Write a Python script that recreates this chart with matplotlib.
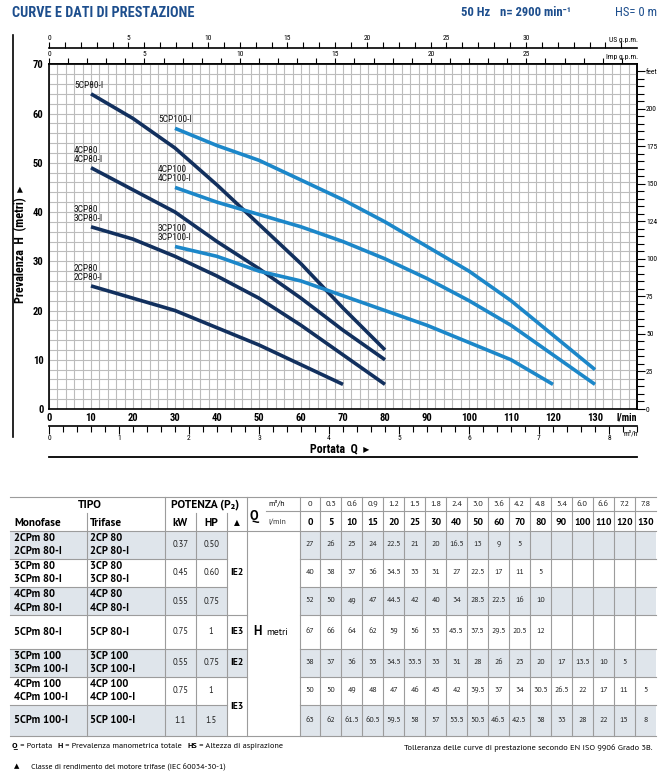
import matplotlib
matplotlib.use('Agg')
import matplotlib.pyplot as plt
import matplotlib.font_manager as fm
from matplotlib.ticker import MultipleLocator, FixedLocator, FuncFormatter
from matplotlib.patches import Rectangle

names = {f.name for f in fm.fontManager.ttflist}
def pick(prefs):
    for p in prefs:
        if p in names:
            return p
    return 'DejaVu Sans'
NARROW = pick(['Liberation Sans Narrow', 'Arial Narrow', 'Roboto Condensed', 'PT Sans Narrow', 'Liberation Sans'])
TXT = pick(['PT Sans', 'Liberation Sans'])
FB = 'DejaVu Sans'

# ---------------- data ----------------
Q_M3H = [0, 0.3, 0.6, 0.9, 1.2, 1.5, 1.8, 2.4, 3.0, 3.6, 4.2, 4.8, 5.4, 6.0, 6.6, 7.2, 7.8]
Q_LMIN = [0, 5, 10, 15, 20, 25, 30, 40, 50, 60, 70, 80, 90, 100, 110, 120, 130]

H_2CP80 = [27, 26, 25, 24, 22.5, 21, 20, 16.5, 13, 9, 5]
H_3CP80 = [40, 38, 37, 36, 34.5, 33, 31, 27, 22.5, 17, 11, 5]
H_4CP80 = [52, 50, 49, 47, 44.5, 42, 40, 34, 28.5, 22.5, 16, 10]
H_5CP80 = [67, 66, 64, 62, 59, 56, 53, 45.5, 37.5, 29.5, 20.5, 12]
H_3CP100 = [38, 37, 36, 35, 34.5, 33.5, 33, 31, 28, 26, 23, 20, 17, 13.5, 10, 5]
H_4CP100 = [50, 50, 49, 48, 47, 46, 45, 42, 39.5, 37, 34, 30.5, 26.5, 22, 17, 11, 5]
H_5CP100 = [63, 62, 61.5, 60.5, 59.5, 58, 57, 53.5, 50.5, 46.5, 42.5, 38, 33, 28, 22, 15, 8]

CURVE_LABELS = ["2CP80\n2CP80-I", "3CP80\n3CP80-I", "4CP80\n4CP80-I", "5CP80-I",
                "3CP100\n3CP100-I", "4CP100\n4CP100-I", "5CP100-I"]
CURVE_H = [H_2CP80, H_3CP80, H_4CP80, H_5CP80, H_3CP100, H_4CP100, H_5CP100]
CURVE_START = [10, 10, 10, 10, 30, 30, 30]     # l/min where drawn curve begins
CURVE_STEP = 10                                 # curve drawn through the 10 l/min table points
CURVE_GROUP = ["80", "80", "80", "80", "100", "100", "100"]

MONOFASE = [["2CPm 80", "2CPm 80-I"], ["3CPm 80", "3CPm 80-I"], ["4CPm 80", "4CPm 80-I"],
            ["5CPm 80-I"], ["3CPm 100", "3CPm 100-I"], ["4CPm 100", "4CPm 100-I"], ["5CPm 100-I"]]
TRIFASE = [["2CP 80", "2CP 80-I"], ["3CP 80", "3CP 80-I"], ["4CP 80", "4CP 80-I"],
           ["5CP 80-I"], ["3CP 100", "3CP 100-I"], ["4CP 100", "4CP 100-I"], ["5CP 100-I"]]
KW = ["0.37", "0.45", "0.55", "0.75", "0.55", "0.75", "1.1"]
HP = ["0.50", "0.60", "0.75", "1", "0.75", "1", "1.5"]
IE_GROUPS = [("IE2", 0, 2), ("IE3", 3, 3), ("IE2", 4, 4), ("IE3", 5, 6)]

FT_LABELS = ["0", "25", "50", "75", "100", "124", "150", "175", "200", "feet"]

NAVY = '#12305e'
BLUE = '#1c87c9'
TITLE_C = '#1d4e8d'
GRID_C = '#bcbcbc'
SHADE = '#dfe5eb'
TLINE = '#9c9c9c'

W, H = 670, 780
fig = plt.figure(figsize=(W / 100, H / 100), dpi=100)
renderer = fig.canvas.get_renderer()

ov = fig.add_axes([0, 0, 1, 1], zorder=0)
ov.set_xlim(0, W)
ov.set_ylim(H, 0)
ov.axis('off')


def size_for(s, target, family, weight='normal'):
    t = ov.text(0, 0, s, fontsize=10, family=family, fontweight=weight)
    w = t.get_window_extent(renderer=renderer).width
    t.remove()
    return 10 * target / w


# ---------------- main chart ----------------
L, T, R, B = 49, 64.3, 637, 409
ax = fig.add_axes([L / W, 1 - B / H, (R - L) / W, (B - T) / H], zorder=2)
ax.set_xlim(0, 140)
ax.set_ylim(0, 70)
ax.set_xticks(range(0, 131, 10))
ax.set_yticks(range(0, 71, 10))
ax.xaxis.set_minor_locator(MultipleLocator(2))
ax.yaxis.set_minor_locator(MultipleLocator(2))
ax.grid(which='both', color=GRID_C, lw=0.8)
ax.set_axisbelow(True)
ax.tick_params(which='both', length=0)
ax.tick_params(axis='x', pad=3)
ax.tick_params(axis='y', pad=4)
fs_tick = size_for("130", 16, NARROW, 'bold')
for lab in ax.get_xticklabels() + ax.get_yticklabels():
    lab.set_fontfamily(NARROW)
    lab.set_fontweight('bold')
    lab.set_fontsize(fs_tick)
for s in ax.spines.values():
    s.set_linewidth(1.2)
    s.set_color('black')

fs_clab = size_for("5CP80-I", 29, NARROW)
for lbl, hv, st, grp in zip(CURVE_LABELS, CURVE_H, CURVE_START, CURVE_GROUP):
    pts = [(q, h) for q, h in zip(Q_LMIN, hv) if q >= st and q % CURVE_STEP == 0]
    qs = [p[0] for p in pts]
    hs = [p[1] for p in pts]
    col = NAVY if grp == "80" else BLUE
    ax.plot(qs, hs, color=col, lw=2.6, solid_capstyle='butt', solid_joinstyle='round', zorder=3)
    ax.annotate(lbl, xy=(qs[0], hs[0]), xytext=(-17, 4), textcoords='offset pixels',
                ha='left', va='bottom', fontsize=fs_clab, family=NARROW, linespacing=1.0,
                color='#111111', zorder=4)

fs_small = size_for("200", 11, NARROW)

imp = ax.secondary_xaxis('top', functions=(lambda q: q / 4.54609, lambda g: g * 4.54609))
imp.xaxis.set_major_locator(FixedLocator(range(0, 31, 5)))
imp.xaxis.set_minor_locator(MultipleLocator(1))
imp.xaxis.set_major_formatter(FuncFormatter(lambda v, p: '' if v >= 30 else f"{v:g}"))
imp.tick_params(which='both', direction='out', length=4, width=0.8, labelsize=fs_small, pad=1)
for lab in imp.get_xticklabels():
    lab.set_fontfamily(NARROW)
imp.spines['top'].set_linewidth(1.2)

us = ax.secondary_xaxis(1 + (T - 48.3) / (B - T), functions=(lambda q: q / 3.78541, lambda g: g * 3.78541))
us.xaxis.set_major_locator(FixedLocator(range(0, 36, 5)))
us.xaxis.set_minor_locator(MultipleLocator(1))
us.xaxis.set_major_formatter(FuncFormatter(lambda v, p: '' if v >= 35 else f"{v:g}"))
us.tick_params(which='both', direction='out', length=4, width=0.8, labelsize=fs_small, pad=1)
for lab in us.get_xticklabels():
    lab.set_fontfamily(NARROW)
us.spines['top'].set_linewidth(1.2)

m3 = ax.secondary_xaxis(-(425.7 - B) / (B - T), functions=(lambda q: q * 0.06, lambda m: m / 0.06))
m3.xaxis.set_major_locator(FixedLocator(range(0, 9)))
m3.xaxis.set_minor_locator(MultipleLocator(0.2))
m3.tick_params(which='major', direction='out', length=6, width=0.8, labelsize=fs_small, pad=0.5)
m3.tick_params(which='minor', direction='out', length=4, width=0.8)
for lab in m3.get_xticklabels():
    lab.set_fontfamily(NARROW)
m3.spines['bottom'].set_linewidth(1.2)

ft = ax.secondary_yaxis('right', functions=(lambda m: m * 3.28084, lambda f: f / 3.28084))
ft.yaxis.set_major_locator(FixedLocator(range(0, 226, 25)))
ft.yaxis.set_minor_locator(MultipleLocator(5))
ft.yaxis.set_major_formatter(FuncFormatter(lambda v, p: FT_LABELS[int(round(v / 25))]))
ft.tick_params(which='major', direction='out', length=6, width=0.8, labelsize=fs_small, pad=0.5)
ft.tick_params(which='minor', direction='out', length=5, width=0.8)
for lab in ft.get_yticklabels():
    lab.set_fontfamily(NARROW)
ft.spines['right'].set_linewidth(1.2)

ov.text(638, 40, "US g.p.m.", ha='right', va='center', fontsize=fs_small, family=NARROW)
ov.text(638, 56.5, "Imp g.p.m.", ha='right', va='center', fontsize=fs_small, family=NARROW)
ov.text(627, 417.5, "l/min", ha='center', va='center', family=NARROW, fontweight='bold',
        fontsize=size_for("l/min", 20.5, NARROW, 'bold'))
ov.text(623, 433.5, "m³/h", ha='left', va='center', fontsize=fs_small, family=NARROW)
ov.text(340, 449, "Portata  Q  ▸", ha='center', va='center', family=[NARROW, FB], fontweight='bold',
        fontsize=size_for("Portata  Q  ▸", 60, [NARROW, FB], 'bold'))
ov.text(21, 244, "Prevalenza  H  (metri)  ▸", ha='center', va='center', rotation=90,
        family=[NARROW, FB], fontweight='bold',
        fontsize=size_for("Prevalenza  H  (metri)  ▸", 118, [NARROW, FB], 'bold'))
ov.plot([12.7, 12.7], [35, 437], color='black', lw=1.2)
ov.plot([L, R], [457, 457], color='black', lw=1.3)

# title and header
fs_title = size_for("CURVE E DATI DI PRESTAZIONE", 182, NARROW, 'bold')
ov.text(12, 13, "CURVE E DATI DI PRESTAZIONE", ha='left', va='center', family=NARROW,
        fontweight='bold', color=TITLE_C, fontsize=fs_title)
fs_hdr = fs_title * 0.88
ov.text(461, 13, "50 Hz", ha='left', va='center', fontsize=fs_hdr, family=NARROW,
        fontweight='bold', color=TITLE_C)
ov.text(500, 13, "n= 2900 min⁻¹", ha='left', va='center', fontsize=fs_hdr,
        family=[NARROW, FB], fontweight='bold', color=TITLE_C)
ov.text(657, 13, "HS= 0 m", ha='right', va='center', family=NARROW, color=TITLE_C,
        fontsize=fs_hdr)

# ---------------- table ----------------
COLX = [10, 86.7, 165, 195.7, 226.7, 247.3, 299.5]
NV = len(Q_LMIN)
XE = 655.7
VX0, VW = 299.5, (XE - 299.5) / NV
VALX = [VX0 + i * VW for i in range(NV + 1)]
HT, HM, HB = 497, 511, 530.5
ROWY = [530.5, 558.5, 587, 615, 648.5, 677, 704.5, 736]
nrows = len(MONOFASE)
shaded = [i % 2 == 0 for i in range(nrows)]
merged_ie = {}
for lab, r0, r1 in IE_GROUPS:
    for r in range(r0, r1 + 1):
        merged_ie[r] = (r0, r1)

for r in range(nrows):
    if not shaded[r]:
        continue
    y0, y1 = ROWY[r], ROWY[r + 1]
    ov.add_patch(Rectangle((COLX[0], y0), COLX[4] - COLX[0], y1 - y0, color=SHADE, lw=0, zorder=0))
    r0, r1 = merged_ie[r]
    if r0 == r1:
        ov.add_patch(Rectangle((COLX[4], y0), COLX[5] - COLX[4], y1 - y0, color=SHADE, lw=0, zorder=0))
    ov.add_patch(Rectangle((VX0, y0), XE - VX0, y1 - y0, color=SHADE, lw=0, zorder=0))

lkw = dict(color=TLINE, lw=0.8, zorder=1)
ov.plot([COLX[0], XE], [HT, HT], **lkw)
ov.plot([COLX[0], XE], [HB, HB], **lkw)
ov.plot([266, XE], [HM, HM], **lkw)
for r in range(1, nrows):
    y = ROWY[r]
    ov.plot([COLX[0], COLX[4]], [y, y], **lkw)
    if merged_ie[r][0] != merged_ie[r - 1][0]:
        ov.plot([COLX[4], COLX[5]], [y, y], **lkw)
    ov.plot([VX0, XE], [y, y], **lkw)
ov.plot([COLX[0], XE], [ROWY[-1], ROWY[-1]], **lkw)
for x in [COLX[1], COLX[3], COLX[4]]:
    ov.plot([x, x], [513, ROWY[-1]], **lkw)
for x in [COLX[2], COLX[5]] + VALX[:-1]:
    ov.plot([x, x], [HT, ROWY[-1]], **lkw)

tk = dict(va='center', zorder=2)
fs_hb = size_for("Monofase", 47, TXT, 'bold')
fs_rb = size_for("2CPm 80", 41, TXT, 'bold')
fs_num = size_for("0.37", 16, TXT)
fs_val = size_for("22.5", 14.5, TXT)
fs_m3 = size_for("0.3", 11, TXT)
fs_lm = size_for("130", 16.5, TXT, 'bold')
fs_unit = size_for("l/min", 18, TXT)

ov.text(90, 505, "TIPO", ha='center', fontsize=size_for("TIPO", 24, TXT, 'bold'), family=TXT,
        fontweight='bold', **tk)
ov.text(205, 505, "POTENZA (P₂)", ha='center', fontsize=size_for("POTENZA (P₂)", 68, [TXT, FB], 'bold'),
        family=[TXT, FB], fontweight='bold', **tk)
ov.text(14, 522.5, "Monofase", ha='left', fontsize=fs_hb, family=TXT, fontweight='bold', **tk)
ov.text(90, 522.5, "Trifase", ha='left', fontsize=fs_hb, family=TXT, fontweight='bold', **tk)
ov.text((COLX[2] + COLX[3]) / 2, 522.5, "kW", ha='center', fontsize=fs_hb, family=TXT, fontweight='bold', **tk)
ov.text((COLX[3] + COLX[4]) / 2, 522.5, "HP", ha='center', fontsize=fs_hb, family=TXT, fontweight='bold', **tk)
ov.text((COLX[4] + COLX[5]) / 2, 523, "▲", ha='center', fontsize=5.5, family=[FB], **tk)
ov.text(250, 516.5, "Q", ha='left', fontsize=fs_hb * 1.15, family=TXT, fontweight='bold', **tk)
ov.text(268, 504.5, "m³/h", ha='left', fontsize=fs_unit, family=[TXT, FB], **tk)
ov.text(268, 522.5, "l/min", ha='left', fontsize=fs_unit, family=TXT, color='#333333', **tk)

for i in range(NV):
    cx = VX0 + (i + 0.5) * VW
    m = Q_M3H[i]
    ov.text(cx, 504.5, "0" if m == 0 else f"{m:.1f}", ha='center', fontsize=fs_m3, family=TXT,
            color='#222222', **tk)
    ov.text(cx, 522.5, f"{Q_LMIN[i]}", ha='center', fontsize=fs_lm, family=TXT, fontweight='bold', **tk)

for r in range(nrows):
    cy = (ROWY[r] + ROWY[r + 1]) / 2
    mono, tri = MONOFASE[r], TRIFASE[r]
    n = len(mono)
    for k in range(n):
        yy = cy + (k - (n - 1) / 2) * 13.5
        ov.text(14, yy, mono[k], ha='left', fontsize=fs_rb, family=TXT, fontweight='bold', **tk)
        ov.text(90, yy, tri[k], ha='left', fontsize=fs_rb, family=TXT, fontweight='bold', **tk)
    ov.text((COLX[2] + COLX[3]) / 2, cy, KW[r], ha='center', fontsize=fs_num, family=TXT, color='#222222', **tk)
    ov.text((COLX[3] + COLX[4]) / 2, cy, HP[r], ha='center', fontsize=fs_num, family=TXT, color='#222222', **tk)
    hv = CURVE_H[r]
    for i, v in enumerate(hv):
        cx = VX0 + (i + 0.5) * VW
        ov.text(cx, cy, f"{v:g}", ha='center', fontsize=fs_val, family=TXT, color='#222222', **tk)

fs_ie = size_for("IE2", 13.3, TXT, 'bold')
for lab, r0, r1 in IE_GROUPS:
    cy = (ROWY[r0] + ROWY[r1 + 1]) / 2
    ov.text((COLX[4] + COLX[5]) / 2, cy, lab, ha='center', fontsize=fs_ie, family=TXT, fontweight='bold', **tk)

cy4 = (ROWY[3] + ROWY[4]) / 2
ov.text(253, cy4, "H", ha='left', fontsize=fs_hb * 1.15, family=TXT, fontweight='bold', **tk)
ov.text(266, cy4 + 0.5, "metri", ha='left', fontsize=size_for("metri", 22, TXT), family=TXT, **tk)

# footer
parts = [("Q", True), (" = Portata   ", False), ("H", True), (" = Prevalenza manometrica totale   ", False),
         ("HS", True), (" = Altezza di aspirazione", False)]
full = "".join(p for p, _ in parts)
fs_foot = size_for(full, 272, TXT)
x = 12
for s, b in parts:
    st = s.rstrip(' ')
    t = ov.text(x, 747, st, ha='left', va='center', fontsize=fs_foot, family=TXT,
                fontweight='bold' if b else 'normal')
    x += t.get_window_extent(renderer=renderer).width + (len(s) - len(st)) * fs_foot * 0.33
ov.text(652, 747.5, "Tolleranza delle curve di prestazione secondo EN ISO 9906 Grado 3B.",
        ha='right', va='center', family=TXT,
        fontsize=size_for("Tolleranza delle curve di prestazione secondo EN ISO 9906 Grado 3B.", 247, TXT))
ov.text(14, 766.5, "▲", ha='left', va='center', fontsize=5, family=[FB])
ov.text(31, 766.5, "Classe di rendimento del motore trifase (IEC 60034-30-1)",
        ha='left', va='center', family=TXT,
        fontsize=size_for("Classe di rendimento del motore trifase (IEC 60034-30-1)", 198, TXT))

fig.savefig('out.png', dpi=100)
